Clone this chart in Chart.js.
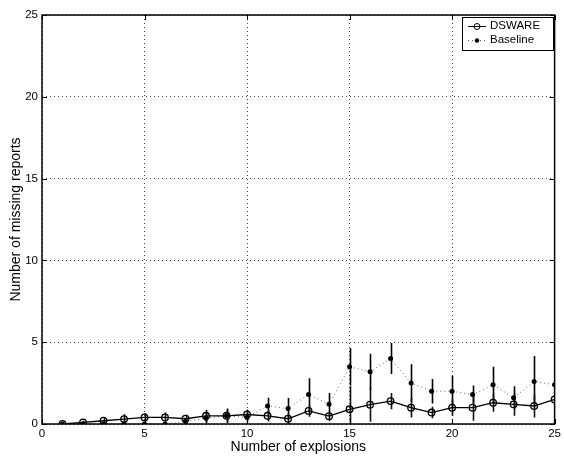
<!DOCTYPE html>
<html>
<head>
<meta charset="utf-8">
<script src="https://cdn.jsdelivr.net/npm/chart.js@4.4.0/dist/chart.umd.min.js"></script>
<style>
  html, body { margin: 0; padding: 0; background: #fff; }
  canvas { display: block; }
</style>
</head>
<body>
<canvas id="grafico" width="564" height="456"></canvas>
<script>
// ===== dados =====
const explosoes = [1,2,3,4,5,6,7,8,9,10,11,12,13,14,15,16,17,18,19,20,21,22,23,24,25];

const dsware    = [0.0,0.1,0.2,0.3,0.4,0.4,0.32,0.5,0.5,0.58,0.5,0.32,0.8,0.48,0.9,1.18,1.4,1.0,0.7,1.0,1.0,1.3,1.2,1.1,1.5];
const dswareErr = [0.05,0.1,0.15,0.3,0.25,0.3,0.25,0.37,0.45,0.3,0.35,0.3,0.35,0.3,1.4,1.05,0.5,0.6,0.35,0.5,0.8,0.55,0.7,0.7,0.5];

const baseline    = [0,0,0,0,0,0,0.15,0.35,0.5,0.4,1.1,0.94,1.8,1.2,3.5,3.2,4.0,2.5,2.0,2.0,1.8,2.4,1.6,2.6,2.4];
const baselineErr = [0,0,0,0,0,0,0.15,0.3,0.4,0.3,0.5,0.65,1.0,0.7,1.15,1.1,0.95,1.15,0.75,0.95,0.55,1.1,0.7,1.55,0.5];

const ticksX = [0,5,10,15,20,25];
const ticksY = [0,5,10,15,20,25];

const pontos = (ys) => explosoes.map((x, i) => ({ x: x, y: ys[i] }));

// barras de erro, moldura e marcas de escala (estilo matlab)
const extras = {
    id: 'extras',
    beforeDatasetsDraw(chart) {
        const ctx = chart.ctx;
        const a = chart.chartArea;
        const sx = chart.scales.x, sy = chart.scales.y;
        ctx.save();
        ctx.beginPath();
        ctx.rect(a.left, a.top, a.right - a.left, a.bottom - a.top);
        ctx.clip();
        ctx.lineWidth = 1.6;
        const barras = [[baseline, baselineErr, '#000'], [dsware, dswareErr, '#111']];
        barras.forEach(([ys, es, cor]) => {
            ctx.strokeStyle = cor;
            explosoes.forEach((x, i) => {
                if (!es[i]) return;
                const px = Math.round(sx.getPixelForValue(x)) + 0.5;
                ctx.beginPath();
                ctx.moveTo(px, sy.getPixelForValue(ys[i] - es[i]));
                ctx.lineTo(px, sy.getPixelForValue(ys[i] + es[i]));
                ctx.stroke();
            });
        });
        ctx.restore();
    },
    afterDraw(chart) {
        const ctx = chart.ctx;
        const a = chart.chartArea;
        const sx = chart.scales.x, sy = chart.scales.y;
        ctx.save();
        ctx.strokeStyle = '#000';
        ctx.lineWidth = 1.5;
        ctx.strokeRect(a.left, a.top, a.right - a.left, a.bottom - a.top);
        ctx.lineWidth = 1;
        const t = 5;
        ctx.beginPath();
        ticksX.forEach(v => {
            const px = Math.round(sx.getPixelForValue(v)) + 0.5;
            ctx.moveTo(px, a.bottom); ctx.lineTo(px, a.bottom - t);
            ctx.moveTo(px, a.top); ctx.lineTo(px, a.top + t);
        });
        ticksY.forEach(v => {
            const py = Math.round(sy.getPixelForValue(v)) + 0.5;
            ctx.moveTo(a.left, py); ctx.lineTo(a.left + t, py);
            ctx.moveTo(a.right, py); ctx.lineTo(a.right - t, py);
        });
        ctx.stroke();

        // legenda
        const lx = 462, ly = 17, lw = 91, lh = 33;
        ctx.fillStyle = '#fff';
        ctx.fillRect(lx, ly, lw, lh);
        ctx.lineWidth = 1;
        ctx.strokeRect(lx + 0.5, ly + 0.5, lw, lh);
        ctx.font = '11.5px "Liberation Sans", Arial, sans-serif';
        ctx.textBaseline = 'middle';
        ctx.fillStyle = '#000';
        const y1 = ly + 9, y2 = ly + 23;
        // DSWARE
        ctx.beginPath();
        ctx.moveTo(lx + 6, y1 + 0.5); ctx.lineTo(lx + 24, y1 + 0.5);
        ctx.stroke();
        ctx.beginPath();
        ctx.arc(lx + 15, y1 + 0.5, 3, 0, Math.PI * 2);
        ctx.stroke();
        ctx.fillText(chart.data.datasets[0].label, lx + 28, y1);
        // Baseline
        ctx.setLineDash([1, 3]);
        ctx.strokeStyle = '#555';
        ctx.beginPath();
        ctx.moveTo(lx + 6, y2 + 0.5); ctx.lineTo(lx + 24, y2 + 0.5);
        ctx.stroke();
        ctx.setLineDash([]);
        ctx.beginPath();
        ctx.arc(lx + 15, y2 + 0.5, 2.2, 0, Math.PI * 2);
        ctx.fill();
        ctx.fillText(chart.data.datasets[1].label, lx + 28, y2);
        ctx.restore();
    }
};

const fonte = { family: '"Liberation Sans", Arial, sans-serif', size: 11.5 };
const fonteTitulo = { family: '"Liberation Sans", Arial, sans-serif', size: 14 };

const ctxGrafico = document.getElementById('grafico').getContext('2d');
const grafico = new Chart(ctxGrafico, {
    type: 'line',
    data: {
        datasets: [{
            label: 'DSWARE',
            data: pontos(dsware),
            borderColor: '#000',
            borderWidth: 1.3,
            pointRadius: 3.3,
            pointBorderWidth: 1.3,
            pointBorderColor: '#000',
            pointBackgroundColor: 'rgba(0,0,0,0)',
            tension: 0
        }, {
            label: 'Baseline',
            data: pontos(baseline),
            borderColor: '#666',
            borderWidth: 1,
            borderDash: [1, 3],
            pointRadius: 2.5,
            pointBorderWidth: 0,
            pointBackgroundColor: '#000',
            tension: 0
        }]
    },
    options: {
        responsive: false,
        animation: false,
        devicePixelRatio: 1,
        layout: { padding: { top: 15, right: 7, left: 0, bottom: 0 } },
        plugins: {
            legend: { display: false },
            tooltip: { enabled: false }
        },
        scales: {
            x: {
                type: 'linear',
                min: 0, max: 25,
                afterFit: (s) => { s.height = 32; },
                afterBuildTicks: (s) => { s.ticks = ticksX.map(v => ({ value: v })); },
                ticks: { color: '#000', font: fonte, padding: 3, maxRotation: 0 },
                grid: { color: '#444', drawTicks: false, lineWidth: 1 },
                border: { display: false, dash: [1, 3] },
                title: { display: true, text: 'Number of explosions', color: '#000',
                         font: fonteTitulo, padding: { top: 0, bottom: 0 } }
            },
            y: {
                type: 'linear',
                min: 0, max: 25,
                afterFit: (s) => { s.width = 42; },
                afterBuildTicks: (s) => { s.ticks = ticksY.map(v => ({ value: v })); },
                ticks: { color: '#000', font: fonte, padding: 4 },
                grid: { color: '#444', drawTicks: false, lineWidth: 1 },
                border: { display: false, dash: [1, 3] },
                title: { display: true, text: 'Number of missing reports', color: '#000',
                         font: fonteTitulo, padding: { top: 8, bottom: 0 } }
            }
        }
    },
    plugins: [extras]
});
</script>
</body>
</html>
